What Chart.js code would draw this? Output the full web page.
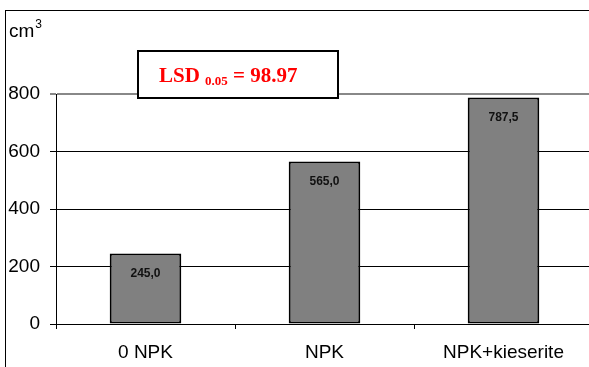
<!DOCTYPE html>
<html>
<head>
<meta charset="utf-8">
<title>Volume by fertiliser treatment</title>
<script src="https://cdn.jsdelivr.net/npm/chart.js@4/dist/chart.umd.min.js"></script>
<style>
  html, body { margin: 0; padding: 0; background: #fff; overflow: hidden; }
  #wrap { position: relative; width: 600px; height: 367px; }
</style>
</head>
<body>
<div id="wrap"><canvas id="chart" width="600" height="367"></canvas></div>
<script>
// Treatments and measured volumes (cm³)
const categories = ['0 NPK', 'NPK', 'NPK+kieserite'];
const volumes = [245.0, 565.0, 787.5];
const yTicks = [0, 200, 400, 600, 800];
const lsdLabel = { main: 'LSD', sub: '0.05', value: ' = 98.97' };
const unitLabel = { base: 'cm', sup: '3' };

const SANS = '"Liberation Sans", Arial, sans-serif';
const SERIF = '"Liberation Serif", "Times New Roman", serif';

const fmt = v => v.toFixed(1).replace('.', ',');

// Frame, unit caption, value labels and LSD box
const decorations = {
  id: 'decorations',
  beforeDraw(chart) {
    const ctx = chart.ctx;
    ctx.save();
    ctx.fillStyle = '#fff';
    ctx.fillRect(0, 0, chart.width, chart.height);
    ctx.strokeStyle = '#000';
    ctx.lineWidth = 1;
    ctx.strokeRect(5.5, 10.5, 800, 600);
    ctx.restore();
  },
  afterDatasetsDraw(chart) {
    const ctx = chart.ctx;
    const meta = chart.getDatasetMeta(0);
    ctx.save();
    ctx.fillStyle = '#111';
    ctx.font = 'bold 12px ' + SANS;
    ctx.textAlign = 'center';
    ctx.textBaseline = 'middle';
    meta.data.forEach((bar, i) => {
      ctx.fillText(fmt(volumes[i]), bar.x, bar.y + 20);
    });
    ctx.restore();
  },
  afterDraw(chart) {
    const ctx = chart.ctx;
    ctx.save();
    // unit caption
    ctx.fillStyle = '#000';
    ctx.textBaseline = 'alphabetic';
    ctx.textAlign = 'left';
    ctx.font = '19px ' + SANS;
    ctx.fillText(unitLabel.base, 9, 37);
    const w = ctx.measureText(unitLabel.base).width;
    ctx.font = '12px ' + SANS;
    ctx.fillText(unitLabel.sup, 9 + w + 1, 28);

    // LSD box
    ctx.fillStyle = '#fff';
    ctx.fillRect(138, 51, 200, 47);
    ctx.strokeStyle = '#000';
    ctx.lineWidth = 2;
    ctx.strokeRect(138, 51, 200, 47);
    ctx.fillStyle = '#ff0000';
    let x = 159;
    ctx.font = 'bold 21px ' + SERIF;
    ctx.fillText(lsdLabel.main + ' ', x, 82);
    x += ctx.measureText(lsdLabel.main + ' ').width;
    ctx.font = 'bold 13px ' + SERIF;
    ctx.fillText(lsdLabel.sub, x, 85);
    x += ctx.measureText(lsdLabel.sub).width;
    ctx.font = 'bold 21px ' + SERIF;
    ctx.fillText(lsdLabel.value, x, 82);
    ctx.restore();
  }
};

new Chart(document.getElementById('chart'), {
  type: 'bar',
  data: {
    labels: categories,
    datasets: [{
      data: volumes,
      backgroundColor: '#808080',
      borderColor: '#000',
      borderWidth: 2,
      borderSkipped: false,
      categoryPercentage: 1,
      barPercentage: 0.4
    }]
  },
  options: {
    responsive: false,
    animation: false,
    layout: { padding: { top: 94, right: 7, left: 0, bottom: 0 } },
    plugins: {
      legend: { display: false },
      tooltip: { enabled: false },
      title: { display: false }
    },
    scales: {
      x: {
        offset: true,
        grid: {
          offset: true,
          drawOnChartArea: false,
          drawTicks: true,
          tickLength: 5,
          color: '#000',
          lineWidth: 1
        },
        border: { color: '#000', width: 1 },
        ticks: {
          color: '#000',
          font: { family: SANS, size: 19 },
          padding: 12,
          maxRotation: 0,
          autoSkip: false
        },
        afterFit(scale) { scale.height = 43; }
      },
      y: {
        min: yTicks[0],
        max: yTicks[yTicks.length - 1],
        afterBuildTicks(scale) { scale.ticks = yTicks.map(v => ({ value: v })); },
        grid: {
          drawTicks: true,
          tickLength: 6,
          color: ctx => (ctx.tick && ctx.tick.value === 800 ? '#888' : '#000'),
          lineWidth: ctx => (ctx.tick && ctx.tick.value === 800 ? 2 : 1)
        },
        border: { color: '#000', width: 1 },
        ticks: {
          color: '#000',
          font: { family: SANS, size: 19 },
          padding: 10,
          callback: v => String(v)
        },
        afterFit(scale) { scale.width = 56; }
      }
    }
  },
  plugins: [decorations]
});
</script>
</body>
</html>
